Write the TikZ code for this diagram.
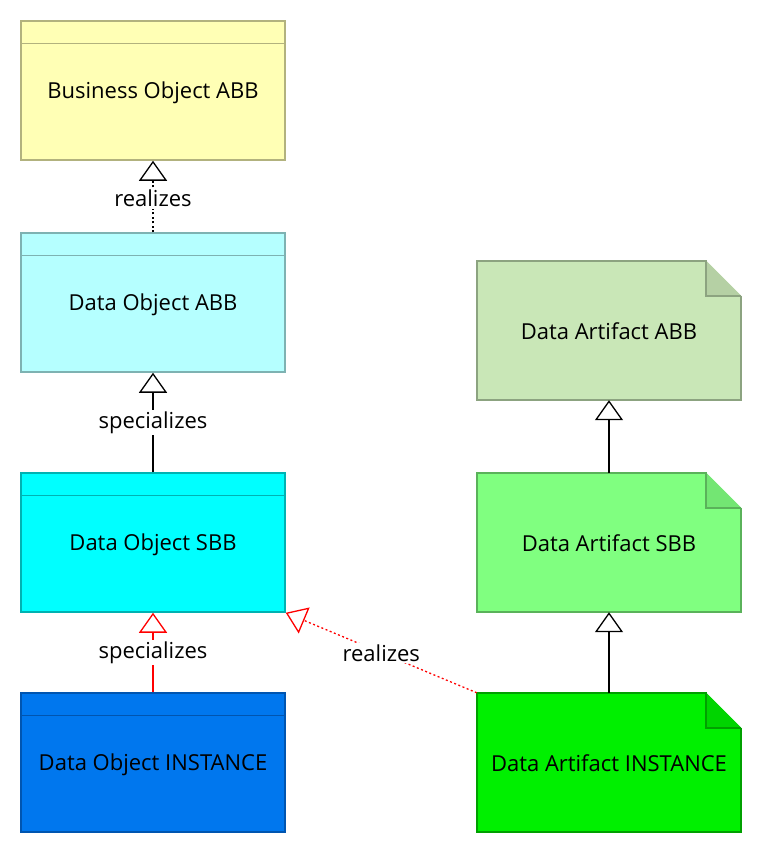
\documentclass[tikz,border=0pt]{standalone}
\usepackage{fontspec}
\setmainfont{Open Sans}
\usetikzlibrary{arrows.meta}
\definecolor{boFill}{HTML}{FFFFB5}\definecolor{boLine}{HTML}{B2B27E}
\definecolor{doaFill}{HTML}{B5FFFF}\definecolor{doaLine}{HTML}{7EB2B2}
\definecolor{dosFill}{HTML}{00FFFF}\definecolor{dosLine}{HTML}{00B2B2}
\definecolor{doiFill}{HTML}{0077EE}\definecolor{doiLine}{HTML}{0055B0}
\definecolor{daaFill}{HTML}{C9E7B7}\definecolor{daaFold}{HTML}{B5D0A4}\definecolor{daaLine}{HTML}{8CA380}
\definecolor{dasFill}{HTML}{80FF80}\definecolor{dasFold}{HTML}{73E673}\definecolor{dasLine}{HTML}{5AB25A}
\definecolor{daiFill}{HTML}{00F000}\definecolor{daiFold}{HTML}{00D400}\definecolor{daiLine}{HTML}{00A000}
\definecolor{relRed}{HTML}{FF0000}
\tikzset{
  txt/.style={font=\fontsize{22}{26}\selectfont},
  obj/.style={rectangle, minimum width=264pt, minimum height=139pt, inner sep=0pt, line width=1.5pt},
  artf/.style={rectangle, minimum width=264pt, minimum height=139pt, inner sep=0pt},
  lbl/.style={fill=white, inner sep=1.5pt, txt},
  gen/.style={-{Triangle[open,length=20pt,width=28pt]}, line width=1.3pt},
  dots/.style={dash pattern=on 2pt off 2.5pt},
}
\newcommand{\hdr}[2]{\draw[#2, line width=1.5pt] ([yshift=-23pt]#1.north west) -- ([yshift=-23pt]#1.north east);}
\newcommand{\artshape}[4]{%
  \fill[#2] (#1.north west) -- ([xshift=-35pt]#1.north east) -- ([yshift=-35pt]#1.north east) -- (#1.south east) -- (#1.south west) -- cycle;
  \fill[#3] ([xshift=-35pt]#1.north east) -- ([xshift=-35pt,yshift=-35pt]#1.north east) -- ([yshift=-35pt]#1.north east) -- cycle;
  \draw[#4, line width=1.5pt] ([yshift=-35pt]#1.north east) -- (#1.south east) -- (#1.south west) -- (#1.north west) -- ([xshift=-35pt]#1.north east) -- ([xshift=-35pt,yshift=-35pt]#1.north east) -- ([yshift=-35pt]#1.north east);}
\begin{document}
\begin{tikzpicture}[x=1pt,y=-1pt]
\useasboundingbox (0,0) rectangle (762,854);
\node[obj, fill=boFill, draw=boLine] (boabb) at (153,90.5) {};
\hdr{boabb}{boLine}
\node[txt] (boabbT) at ([yshift=-2.5pt]boabb.center) {Business Object ABB};
\node[obj, fill=doaFill, draw=doaLine] (doabb) at (153,302.5) {};
\hdr{doabb}{doaLine}
\node[txt] (doabbT) at ([yshift=-2.5pt]doabb.center) {Data Object ABB};
\node[obj, fill=dosFill, draw=dosLine] (dosbb) at (153,542.5) {};
\hdr{dosbb}{dosLine}
\node[txt] (dosbbT) at ([yshift=-2.5pt]dosbb.center) {Data Object SBB};
\node[obj, fill=doiFill, draw=doiLine] (doinst) at (153,762.5) {};
\hdr{doinst}{doiLine}
\node[txt] (doinstT) at ([yshift=-2.5pt]doinst.center) {Data Object INSTANCE};

\node[artf] (daabb) at (609,330.5) {};
\artshape{daabb}{daaFill}{daaFold}{daaLine}
\node[txt] (daabbT) at ([yshift=-0.5pt]daabb.center) {Data Artifact ABB};
\node[artf] (dasbb) at (609,542.5) {};
\artshape{dasbb}{dasFill}{dasFold}{dasLine}
\node[txt] (dasbbT) at ([yshift=-0.5pt]dasbb.center) {Data Artifact SBB};
\node[artf] (dainst) at (609,762.5) {};
\artshape{dainst}{daiFill}{daiFold}{daiLine}
\node[txt] (dainstT) at ([yshift=-0.5pt]dainst.center) {Data Artifact INSTANCE};

\draw[gen, dots] (doabb.north) -- node[lbl, pos=0.47]{realizes} (boabb.south);
\draw[gen] (dosbb.north) -- node[lbl, pos=0.5]{specializes} (doabb.south);
\draw[gen, draw=relRed] (doinst.north) -- node[lbl, pos=0.5, text=black]{specializes} (dosbb.south);
\draw[gen, dots, draw=relRed] (dainst.north west) -- node[lbl, pos=0.5, text=black]{realizes} (dosbb.south east);
\draw[gen] (dasbb.north) -- (daabb.south);
\draw[gen] (dainst.north) -- (dasbb.south);
\end{tikzpicture}
\end{document}
